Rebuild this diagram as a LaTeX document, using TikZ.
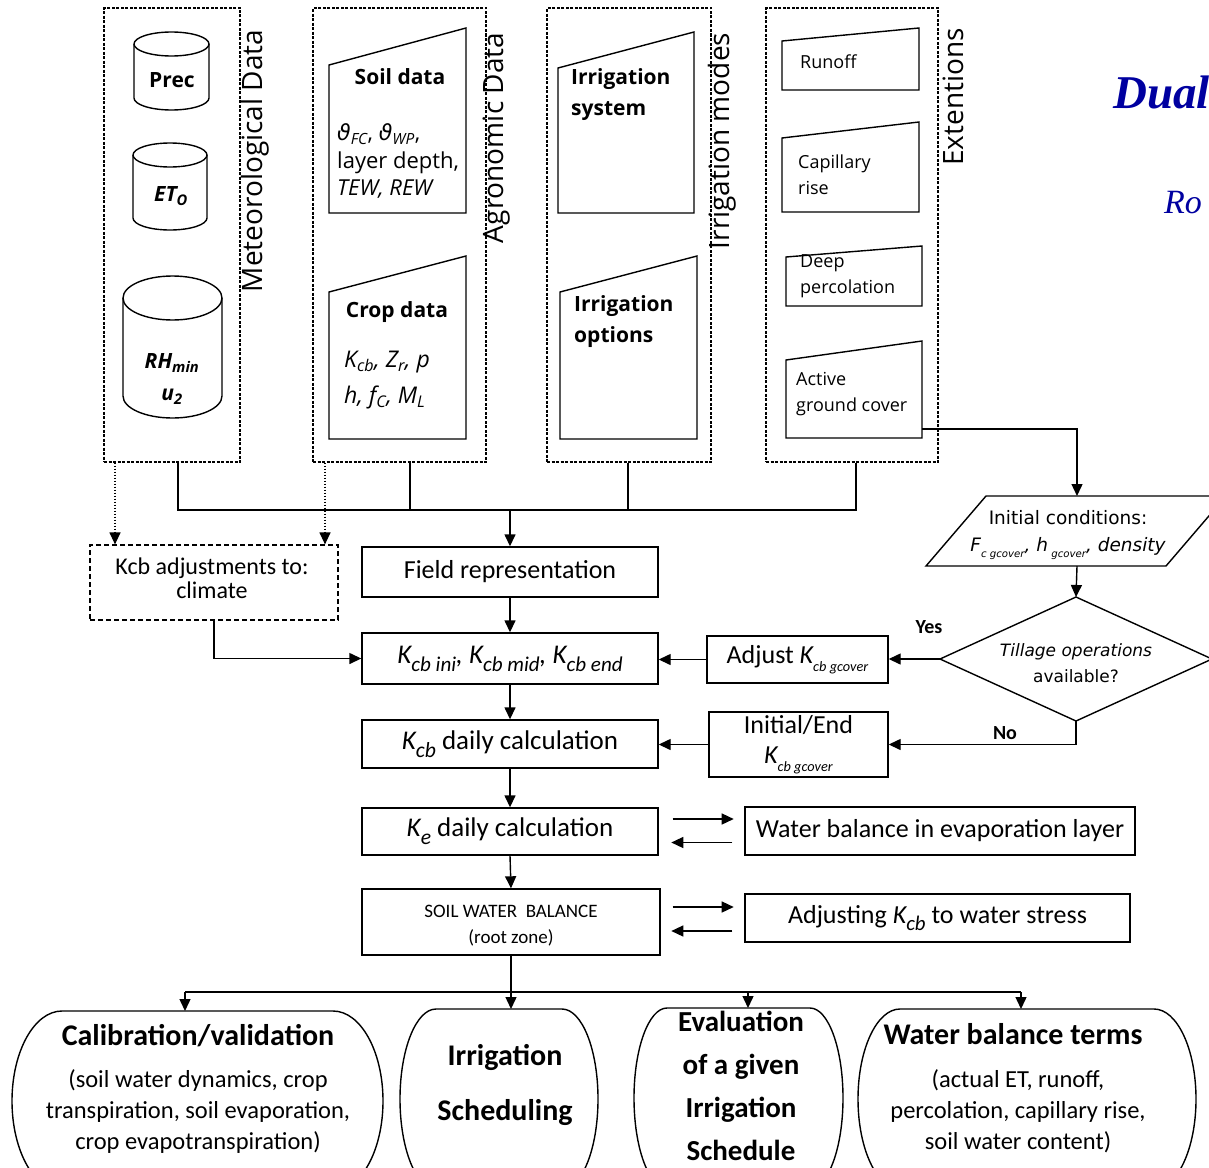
\documentclass[tikz,border=0pt]{standalone}
\usepackage{fontspec}
\setmainfont{Carlito}
\newfontfamily\segoe{Open Sans}
\newfontfamily\dvs{DejaVu Sans}
\newfontfamily\tms{Liberation Serif}
\usetikzlibrary{arrows.meta,calc}
\newcommand\fs[2]{\fontsize{#1}{#2}\selectfont}
\newcommand\sbx[2][0.55]{\raisebox{-0.3em}{\scalebox{#1}{#2}}}
\definecolor{titleblue}{RGB}{0,0,160}
\tikzset{
  ln/.style={line width=1.4pt, draw=black},
  arr/.style={ln, -{Triangle[length=12pt,width=11pt]}},
  dotarr/.style={line width=1.2pt, dash pattern=on 1.5pt off 1.5pt, -{Triangle[length=12pt,width=11pt]}},
  panel/.style={draw, line width=1.2pt, dash pattern=on 3pt off 1.5pt, inner sep=0},
  box/.style={draw, line width=1.4pt, inner sep=2pt, align=center, font=\fs{26}{30}},
  cyl/.style={draw, line width=1.4pt},
  plbl/.style={rotate=90, font=\segoe\fs{28}{32}, inner sep=0},
  ptitle/.style={font=\segoe\bfseries\fs{21}{31}, align=left, anchor=west, inner sep=0},
  ptxt/.style={font=\segoe\fs{18}{26}, align=left, anchor=west, inner sep=0},
  ctxt/.style={font=\segoe\bfseries\fs{21}{32}, align=center, inner sep=0},
  btitle/.style={font=\bfseries\fs{30}{34}, align=center, inner sep=0},
  btxt/.style={font=\fs{24.5}{31}, align=center, inner sep=0},
  yn/.style={font=\bfseries\fs{20}{24}, inner sep=0}
}
\newcommand\rbox[4]{%
  \draw[ln] ({#1+#4},#3) -- ({#2-#4},#3)
    arc[start angle=90,end angle=-90,x radius=#4pt,y radius=90pt]
    -- ({#1+#4},{#3+180})
    arc[start angle=270,end angle=90,x radius=#4pt,y radius=90pt] -- cycle;}
\begin{document}
\begin{tikzpicture}[x=1pt,y=-1pt]
\useasboundingbox (0,0) rectangle (1209,1167);

% ---------- title (cut by the page edge) ----------
\node[anchor=base west, font=\tms\bfseries\itshape\fs{47}{50}, text=titleblue, inner sep=0] (title) at (1113,108) {Dual};
\node[anchor=base west, font=\tms\itshape\fs{34}{36}, text=titleblue, inner sep=0] (auth) at (1164,213) {Ro};

% ---------- panels ----------
\node[panel, minimum width=136pt, minimum height=454pt] (met) at (172,235) {};
\node[panel, minimum width=173pt, minimum height=454pt] (agro) at (399.5,235) {};
\node[panel, minimum width=164pt, minimum height=454pt] (irr) at (629,235) {};
\node[panel, minimum width=172pt, minimum height=454pt] (ext) at (852,235) {};

\node[plbl] (metl) at (255,161) {Meteorological Data};
\node[plbl] (agrol) at (497,138) {Agronomic Data};
\node[plbl] (irrl) at (722,141) {Irrigation modes};
\node[plbl] (extl) at (953,97) {Extentions};

% ---------- cylinders ----------
\draw[cyl] (171.5,44) ellipse [x radius=37.5pt, y radius=12pt];
\draw[cyl] (134,44) -- (134,98) arc[start angle=180,end angle=360,x radius=37.5pt,y radius=12pt] -- (209,44);
\draw[cyl] (170,155) ellipse [x radius=37pt, y radius=12pt];
\draw[cyl] (133,155) -- (133,218) arc[start angle=180,end angle=360,x radius=37pt,y radius=12pt] -- (207,155);
\draw[cyl] (172.5,298) ellipse [x radius=49.5pt, y radius=22pt];
\draw[cyl] (123,298) -- (123,396) arc[start angle=180,end angle=360,x radius=49.5pt,y radius=22pt] -- (222,298);

\node[ctxt] (prec) at (172,80) {Prec};
\node[ctxt, font=\segoe\bfseries\itshape\fs{21}{32}] (eto) at (171,196) {ET\textsubscript{O}};
\node[ctxt, font=\segoe\bfseries\itshape\fs{21}{32}] (rh) at (172,379) {RH\textsubscript{min}\\u\textsubscript{2}};

% ---------- trapezoids ----------
\draw[cyl] (329,65) -- (466,28) -- (466,213) -- (329,213) -- cycle;
\draw[cyl] (329,292) -- (466,256) -- (466,439) -- (329,439) -- cycle;
\draw[cyl] (558,68) -- (694,32) -- (694,213) -- (558,213) -- cycle;
\draw[cyl] (560,292) -- (697,256) -- (697,439) -- (560,439) -- cycle;
\draw[cyl] (782,41) -- (919,28) -- (919,90) -- (782,90) -- cycle;
\draw[cyl] (782,138) -- (919,122) -- (919,212) -- (782,212) -- cycle;
\draw[cyl] (786,257) -- (922,246) -- (922,306) -- (786,306) -- cycle;
\draw[cyl] (786,360) -- (922,341) -- (922,438) -- (786,438) -- cycle;

\node[ptitle, anchor=center] (soilt) at (400,77) {Soil data};
\node[ptxt, font=\segoe\fs{22}{27.5}] (soilp) at (337,161)
  {{\dvs\itshape ϑ}\textsubscript{\itshape FC}, {\dvs\itshape ϑ}\textsubscript{\itshape WP},\\layer depth,\\\itshape TEW, REW};
\node[ptitle, anchor=center] (cropt) at (397,312) {Crop data};
\node[ptxt, font=\segoe\itshape\fs{23}{36}] (cropp) at (344,380)
  {K\textsubscript{cb}, Z\textsubscript{r}, p\\h, f\textsubscript{C}, M\textsubscript{L}};
\node[ptitle] (irrsys) at (571,94.5) {Irrigation\\system};
\node[ptitle] (irropt) at (574,321.5) {Irrigation\\options};
\node[ptxt] (runoff) at (800,62) {Runoff};
\node[ptxt] (cap) at (798,175) {Capillary\\rise};
\node[ptxt] (deep) at (800,276) {Deep\\percolation};
\node[ptxt] (agc) at (796,394) {Active\\ground cover};
\coordinate (agcR) at (922,429);

% ---------- panels to bus ----------
\coordinate (bm) at (178,510);
\coordinate (bx) at (856,510);
\draw[ln] ([xshift=6pt]met.south) -- (bm) -- (bx) -- ([xshift=4pt]ext.south);
\draw[ln] ([xshift=10.5pt]agro.south) -- ++(0,48);
\draw[ln] ([xshift=-1pt]irr.south) -- ++(0,48);

% ---------- flow boxes ----------
\node[box, dash pattern=on 5pt off 3pt, line width=1.2pt, minimum width=248pt, minimum height=75pt] (kcbadj) at (214,582.5) {};
\node[align=center, inner sep=0, font=\fs{24}{24}] (kcbadjt) at (212,578) {Kcb adjustments to:\\climate};
\node[box, minimum width=296pt, minimum height=50pt] (fieldrep) at (510,572) {Field representation};
\node[box, minimum width=296pt, minimum height=51pt, font=\fs{27}{30}] (kcbini) at (510,658.5)
  {\itshape K\sbx[0.78]{cb ini}, K\sbx[0.78]{cb mid}, K\sbx[0.78]{cb end}};
\node[box, minimum width=296pt, minimum height=48pt, font=\fs{27}{30}] (kcbday) at (510,744)
  {{\itshape K\sbx[0.8]{cb}} daily calculation};
\node[box, minimum width=296pt, minimum height=47pt, font=\fs{27}{30}] (keday) at (510,831.5)
  {{\itshape K\sbx[0.8]{e}} daily calculation};
\node[box, minimum width=298pt, minimum height=66pt] (swb) at (511,922) {};
\node[align=center, inner sep=0, font=\fs{19}{26}] (swbt) at (511,926)
  {SOIL WATER\ \ BALANCE\\(root zone)};
\node[box, minimum width=181pt, minimum height=47pt] (adjust) at (797.5,659.5)
  {Adjust {\itshape K\sbx{cb gcover}}};
\node[box, minimum width=179pt, minimum height=65pt] (initend) at (798.5,744.5)
  {Initial/End\\{\itshape K\sbx{cb gcover}}};
\node[box, minimum width=390pt, minimum height=48pt] (wbevap) at (940,831)
  {Water balance in evaporation layer};
\node[box, minimum width=385pt, minimum height=48pt] (adjkcb) at (937.5,918)
  {Adjusting {\itshape K\sbx[0.8]{cb}} to water stress};

% ---------- parallelogram ----------
\coordinate (icTL) at (986,496);
\coordinate (icTR) at (1226,496);
\coordinate (icBR) at (1166,566);
\coordinate (icBL) at (926,566);
\coordinate (icT) at (1077,496);
\coordinate (icB) at (1077,566);
\draw[ln] (icTL) -- (icTR) -- (icBR) -- (icBL) -- cycle;
\node[align=center, inner sep=0, font=\dvs\fs{18.5}{27}] (ic) at (1068,535)
  {Initial conditions:\\\itshape F\sbx{c gcover}, h\sbx{ gcover}, density};

% ---------- diamond ----------
\coordinate (dL) at (940,659);
\coordinate (dT) at (1076,597);
\coordinate (dR) at (1212,659);
\coordinate (dB) at (1076,721);
\draw[ln] (dL) -- (dT) -- (dR) -- (dB) -- cycle;
\node[align=center, inner sep=0, font=\dvs\fs{17}{26}] (till) at (1076,663)
  {\itshape Tillage operations\\available?};
\node[yn] (yes) at (929,627) {Yes};
\node[yn] (no) at (1005,733) {No};

% ---------- connectors ----------
\draw[arr] (fieldrep.north |- bm) -- (fieldrep.north);
\coordinate (d1) at ([xshift=-57pt]met.south);
\coordinate (d2) at ([xshift=-74.5pt]agro.south);
\draw[dotarr] (d1) -- (d1 |- kcbadj.north);
\draw[dotarr] (d2) -- (d2 |- kcbadj.north);
\draw[arr] (kcbadj.south) |- (kcbini.west);
\draw[arr] (fieldrep.south) -- (kcbini.north);
\draw[arr] (kcbini.south) -- (kcbday.north);
\draw[arr] (kcbday.south) -- (keday.north);
\draw[arr] (keday.south) -- (swb.north);
\draw[arr] (adjust.west) -- (adjust.west -| kcbini.east);
\draw[arr] (initend.west) -- (initend.west -| kcbday.east);
\draw[arr] (agcR) -| (icT);
\draw[arr] (icB) -- (dT);
\draw[arr] (dL) -- (dL -| adjust.east);
\draw[arr] (dB) |- (initend.east);

\draw[arr] ([xshift=14pt,yshift=12.5pt]keday.east) -- ++(61,0);
\draw[arr] ([xshift=-12pt,yshift=-11.5pt]wbevap.west) -- ++(-61,0);
\draw[arr] ([xshift=12pt,yshift=15pt]swb.east) -- ++(61,0);
\draw[arr] ([xshift=-12pt,yshift=-13pt]adjkcb.west) -- ++(-61,0);

% ---------- outputs ----------
\coordinate (bus2L) at (185,992);
\coordinate (bus2R) at (1021,992);
\coordinate (calT) at (185,1011);
\coordinate (schT) at (511,1009);
\coordinate (evaT) at (748,1008);
\coordinate (wbtT) at (1021,1009);
\draw[ln] (swb.south) -- (swb.south |- bus2L);
\draw[ln] (bus2L) -- (bus2R);
\draw[arr] (bus2L) -- (calT);
\draw[arr] (schT |- bus2L) -- (schT);
\draw[arr] (evaT |- bus2L) -- (evaT);
\draw[arr] (bus2R) -- (wbtT);

\rbox{12}{383}{1011}{50}
\rbox{400}{598}{1009}{36}
\rbox{634}{843}{1008}{33}
\rbox{858}{1196}{1009}{42}

\node[btitle] (calt) at (198,1036) {Calibration/validation};
\node[btxt] (calb) at (198,1112) {(soil water dynamics, crop\\transpiration, soil evaporation,\\crop evapotranspiration)};
\node[btitle, font=\bfseries\fs{30}{55}] (sch) at (505,1084.5) {Irrigation\\Scheduling};
\node[btitle, font=\bfseries\fs{29}{43}] (eva) at (741,1086) {Evaluation\\of a given\\Irrigation\\Schedule};
\node[btitle] (wbt) at (1013,1034) {Water balance terms};
\node[btxt] (wbb) at (1018,1111) {(actual ET, runoff,\\percolation, capillary rise,\\soil water content)};
\end{tikzpicture}
\end{document}
